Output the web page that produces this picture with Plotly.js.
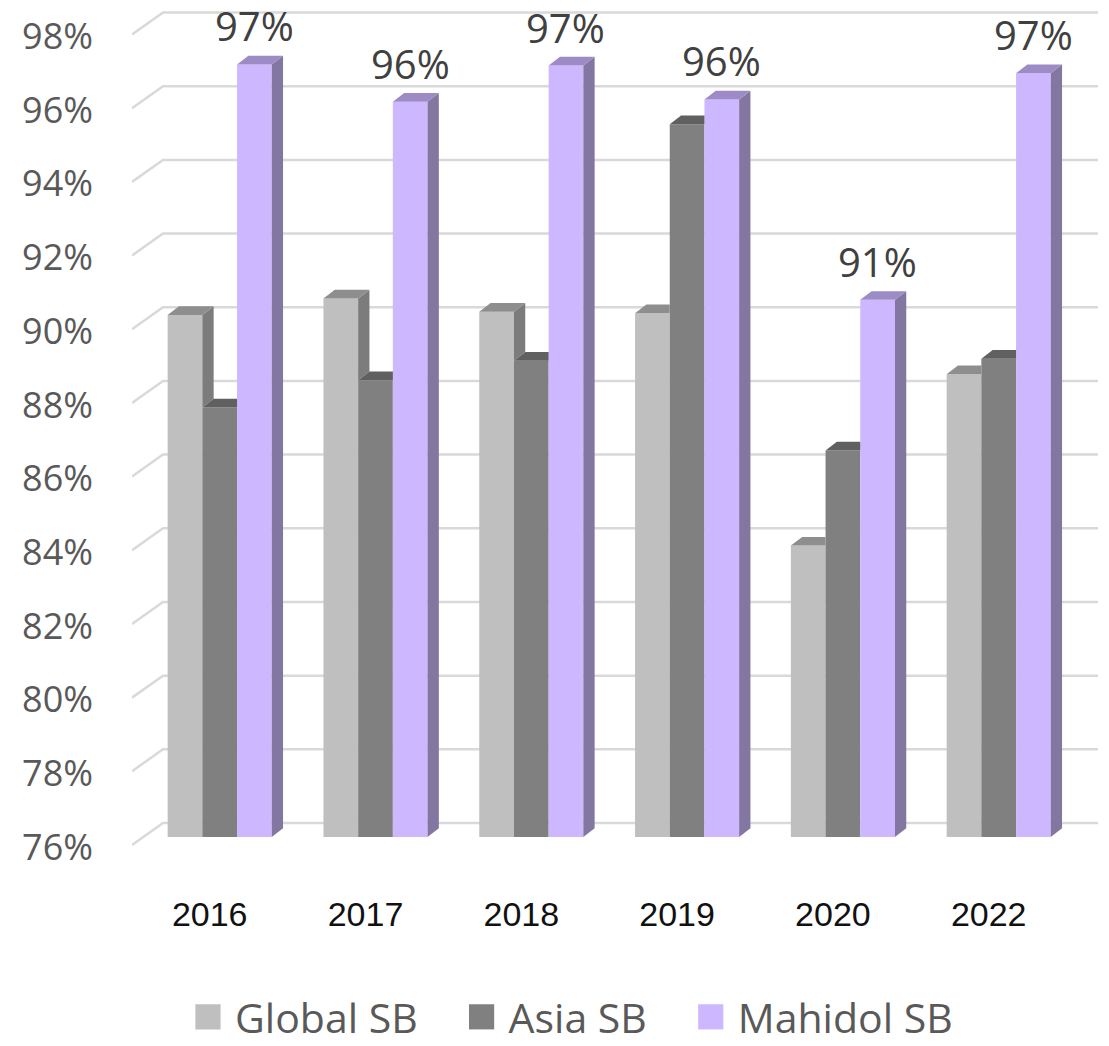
<!DOCTYPE html>
<html>
<head>
<meta charset="utf-8">
<script src="https://cdn.plot.ly/plotly-3.0.1.min.js"></script>
<style>html,body{margin:0;padding:0;background:#fff;}#chart{width:1109px;height:1046px;}</style>
</head>
<body>
<div id="chart"></div>
<script>
// ---- data ----
const years = ['2016', '2017', '2018', '2019', '2020', '2022'];
const globalSB = [90.17, 90.62, 90.26, 90.22, 83.91, 88.56];
const asiaSB = [87.66, 88.40, 88.93, 95.35, 86.49, 88.98];
const mahidolSB = [96.97, 95.96, 96.94, 96.02, 90.58, 96.73];
const seriesNames = ['Global SB', 'Asia SB', 'Mahidol SB'];
const yTickVals = [76, 78, 80, 82, 84, 86, 88, 90, 92, 94, 96, 98];
const yTickText = ['76%', '78%', '80%', '82%', '84%', '86%', '88%', '90%', '92%', '94%', '96%', '98%'];
const axisBase = 76;

// ---- styling / geometry ----
const frontColors = ['#bfbfbf', '#808080', '#cdb8ff'];
const topColors = ['#8e8e8e', '#606060', '#9d8bc6'];
const sideColors = ['#7c7c7c', '#575757', '#8377a1'];
const legendPad = ['\u00a0\u00a0\u00a0', '\u00a0\u00a0\u00a0', ''];

const W = 1109, H = 1046;
const plotL = 132, plotR = 1098, plotT = 10, plotB = 850;
const catPx = 155.8;          // pixels per category
const firstCenterPx = 219.7;  // pixel x of first group centre
const pxPerUnit = 36.84;      // pixels per percentage point
const basePx = 837;           // pixel y of the 76% bar base
const bargap = 0.332;
const nSeries = 3;

const xr0 = -(firstCenterPx - plotL) / catPx;
const xr1 = xr0 + (plotR - plotL) / catPx;
const yr0 = axisBase - (plotB - basePx) / pxPerUnit;
const yr1 = axisBase + (basePx - plotT) / pxPerUnit;
const lblShift = 10 / pxPerUnit;

const barW = (1 - bargap) / nSeries;
const dX = 11.3 / catPx;       // depth offset (x) of the 3D faces
const dY = 8.7 / pxPerUnit;     // depth offset (y)
const gridFront = 8 / pxPerUnit;
const gridBack = 14 / pxPerUnit;
const gridSlant = 31 / catPx;

const allSeries = [globalSB, asiaSB, mahidolSB];

const traces = allSeries.map((vals, s) => ({
  type: 'bar',
  name: seriesNames[s] + legendPad[s],
  x: years,
  y: vals.map(v => v - axisBase),
  base: axisBase,
  customdata: vals,
  hovertemplate: '%{x}: %{customdata:.1f}%<extra>' + seriesNames[s] + '</extra>',
  marker: { color: frontColors[s], line: { width: 0 } },
  cliponaxis: false
}));
// invisible helper so the percentage tick axis (y2) is drawn
traces.push({
  type: 'scatter', mode: 'markers', x: years, y: mahidolSB, yaxis: 'y2',
  marker: { opacity: 0 }, showlegend: false, hoverinfo: 'skip'
});

function poly(pts) {
  return 'M' + pts.map(p => p[0] + ',' + p[1]).join('L') + 'Z';
}

const shapes = [];
// back-wall gridlines with their slanted front part
yTickVals.forEach(v => {
  shapes.push({
    type: 'path', layer: 'below', xref: 'x', yref: 'y',
    path: 'M' + xr0 + ',' + (v - gridFront) + 'L' + (xr0 + gridSlant) + ',' + (v + gridBack) + 'L' + xr1 + ',' + (v + gridBack),
    line: { color: '#d9d9d9', width: 2.5 }
  });
});
// 3D side and top faces
years.forEach((yr, i) => {
  for (let s = 0; s < nSeries; s++) {
    const top = allSeries[s][i];
    const L = i - (nSeries / 2) * barW + s * barW;
    const R = L + barW;
    const next = s < nSeries - 1 ? allSeries[s + 1][i] : null;
    if (next === null) {
      shapes.push({ type: 'path', layer: 'above', xref: 'x', yref: 'y', fillcolor: sideColors[s], line: { width: 0 },
        path: poly([[R, axisBase], [R, top], [R + dX, top + dY], [R + dX, axisBase + dY]]) });
    } else if (top > next) {
      shapes.push({ type: 'path', layer: 'above', xref: 'x', yref: 'y', fillcolor: sideColors[s], line: { width: 0 },
        path: poly([[R, next], [R, top], [R + dX, top + dY], [R + dX, next + dY]]) });
    }
    if (next === null || top >= next) {
      shapes.push({ type: 'path', layer: 'above', xref: 'x', yref: 'y', fillcolor: topColors[s], line: { width: 0 },
        path: poly([[L, top], [R, top], [R + dX, top + dY], [L + dX, top + dY]]) });
    } else {
      shapes.push({ type: 'path', layer: 'above', xref: 'x', yref: 'y', fillcolor: topColors[s], line: { width: 0 },
        path: poly([[L, top], [R, top], [R, top + dY], [L + dX, top + dY]]) });
    }
  }
});

// data labels on the Mahidol series
const annotations = mahidolSB.map((v, i) => ({
  x: i + barW, y: v, xref: 'x', yref: 'y',
  text: Math.round(v) + '%',
  showarrow: false, yanchor: 'bottom', xanchor: 'center', yshift: 9,
  font: { family: 'Open Sans', size: 40, color: '#404040' }
}));

const layout = {
  width: W, height: H,
  margin: { l: plotL, r: W - plotR, t: plotT, b: H - plotB, pad: 0, autoexpand: false },
  paper_bgcolor: '#ffffff', plot_bgcolor: 'rgba(0,0,0,0)',
  barmode: 'group', bargap: bargap, bargroupgap: 0,
  showlegend: true,
  legend: {
    orientation: 'h', x: 0.0507, xanchor: 'left', y: -0.199, yanchor: 'middle',
    font: { family: 'Open Sans', size: 41, color: '#595959' },
    itemwidth: 44, traceorder: 'normal', borderwidth: 0, bgcolor: 'rgba(0,0,0,0)'
  },
  xaxis: {
    type: 'category', range: [xr0, xr1], showgrid: false, zeroline: false, showline: false,
    ticks: '', ticklabelshift: -10, ticklabelstandoff: 41,
    tickfont: { family: 'Liberation Sans, Arial, sans-serif', size: 34, color: '#111111' },
    fixedrange: true
  },
  yaxis: {
    range: [yr0, yr1], showgrid: false, zeroline: false, showline: false,
    showticklabels: false, ticks: '', fixedrange: true
  },
  yaxis2: {
    overlaying: 'y', anchor: 'x', side: 'left',
    range: [yr0 + lblShift, yr1 + lblShift], showgrid: false, zeroline: false, showline: false,
    tickmode: 'array', tickvals: yTickVals, ticktext: yTickText, ticks: '',
    ticklabelstandoff: 38,
    tickfont: { family: 'Open Sans', size: 36, color: '#595959' },
    fixedrange: true
  },
  shapes: shapes,
  annotations: annotations
};

Plotly.newPlot('chart', traces, layout, { displayModeBar: false, staticPlot: true }).then(gd => {
  // enlarge the legend colour squares to match the reference
  gd.querySelectorAll('.legend .legendpoints path').forEach(p => {
    const t = p.getAttribute('transform') || '';
    p.setAttribute('transform', t + ' scale(2.1)');
  });
});
</script>
</body>
</html>
